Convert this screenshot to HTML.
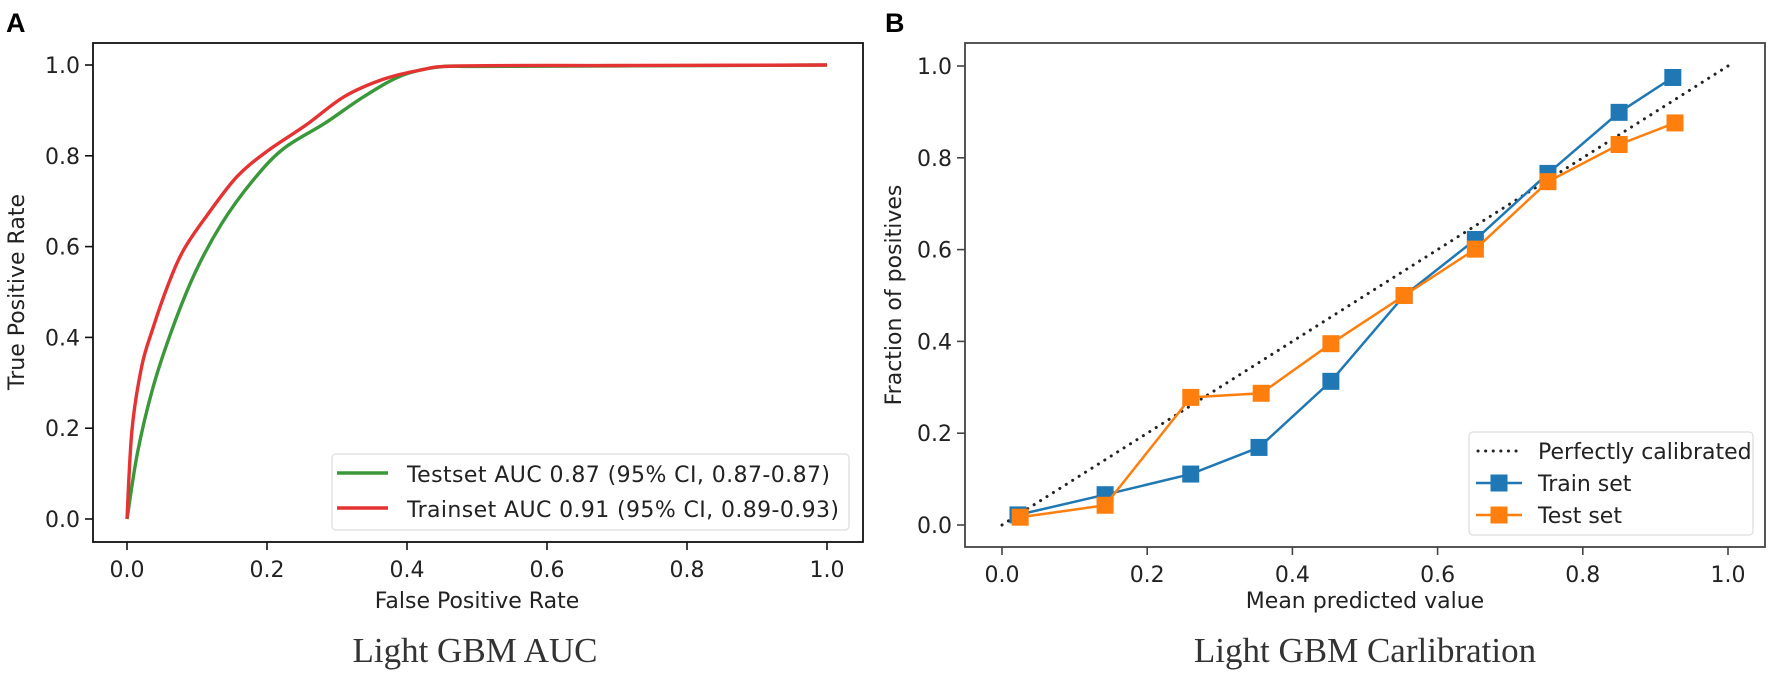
<!DOCTYPE html>
<html><head><meta charset="utf-8"><style>
html,body{margin:0;padding:0;background:#fff;}
svg{display:block;font-family:"DejaVu Sans","Liberation Sans",sans-serif;}
</style></head><body>
<svg id="fig" width="1772" height="676" viewBox="0 0 1772 676" xmlns="http://www.w3.org/2000/svg">
<rect width="1772" height="676" fill="#fff"/>
<text x="6" y="32" font-size="27" font-weight="bold" font-family="Liberation Sans, sans-serif">A</text>
<text x="885" y="32" font-size="27" font-weight="bold" font-family="Liberation Sans, sans-serif">B</text>
<g id="roc"></g>
<g id="cal"></g>
</svg>
<script>
// ROC data
const rocTestFpr = [0,0.015,0.037,0.065,0.098,0.135,0.179,0.223,0.283,0.338,0.393,0.447,0.5,0.7,1.0];
const rocTestTpr = [0,0.146,0.289,0.42,0.545,0.65,0.744,0.815,0.872,0.93,0.977,0.996,0.997,0.998,1.0];
const rocTrainFpr = [0,0.007,0.021,0.037,0.059,0.081,0.114,0.157,0.201,0.256,0.31,0.365,0.42,0.475,0.7,1.0];
const rocTrainTpr = [0,0.194,0.336,0.42,0.517,0.593,0.668,0.754,0.811,0.868,0.93,0.968,0.989,0.998,0.999,1.0];
const rocTicks = [0,0.2,0.4,0.6,0.8,1.0];
const rocTickLabels = ["0.0","0.2","0.4","0.6","0.8","1.0"];
// Calibration data
const calTrainX = [0.022,0.142,0.260,0.354,0.453,0.554,0.652,0.752,0.850,0.924];
const calTrainY = [0.022,0.066,0.111,0.169,0.313,0.500,0.622,0.766,0.899,0.975];
const calTestX = [0.025,0.142,0.260,0.357,0.453,0.554,0.652,0.752,0.850,0.927];
const calTestY = [0.017,0.043,0.278,0.287,0.395,0.500,0.601,0.748,0.829,0.876];
const calTicks = [0,0.2,0.4,0.6,0.8,1.0];
const calTickLabels = ["0.0","0.2","0.4","0.6","0.8","1.0"];

const NS="http://www.w3.org/2000/svg";
function mk(parent,tag,attrs){const e=document.createElementNS(NS,tag);for(const k in attrs)e.setAttribute(k,attrs[k]);parent.appendChild(e);return e;}

function drawAxes(g,L,T,R,B,sx,sy,ticks,labels,frameColor){
  mk(g,'rect',{x:L,y:T,width:R-L,height:B-T,fill:'none',stroke:frameColor,'stroke-width':1.8});
  ticks.forEach((t,i)=>{
    const x=sx(t);
    const tk=mk(g,'line',{x1:x,y1:B,x2:x,y2:B+8,stroke:frameColor,'stroke-width':1.6});
    
    
    const tl=mk(g,'text',{x:x,y:B+35,'font-size':22,'text-anchor':'middle',fill:'#222'});
    tl.textContent=labels[i];
    
    
    const y=sy(t);
    const tk2=mk(g,'line',{x1:L-8,y1:y,x2:L,y2:y,stroke:frameColor,'stroke-width':1.6});
    
    
    const tl2=mk(g,'text',{x:L-13,y:y+8,'font-size':22,'text-anchor':'end',fill:'#222'});
    tl2.textContent=labels[i];
    
    
  });
}
function pathFrom(xs,ys,sx,sy){return xs.map((v,i)=>(i?'L':'M')+sx(v).toFixed(1)+','+sy(ys[i]).toFixed(1)).join(' ');}
function smoothFrom(xs,ys,sx,sy){
  const P=xs.map((v,i)=>[sx(v),sy(ys[i])]);
  let d='M'+P[0][0].toFixed(1)+','+P[0][1].toFixed(1);
  for(let i=0;i<P.length-1;i++){
    const p0=P[i-1]||P[i],p1=P[i],p2=P[i+1],p3=P[i+2]||P[i+1];
    const c1=[p1[0]+(p2[0]-p0[0])/6,p1[1]+(p2[1]-p0[1])/6];
    const c2=[p2[0]-(p3[0]-p1[0])/6,p2[1]-(p3[1]-p1[1])/6];
    d+=' C'+c1.map(n=>n.toFixed(1)).join(',')+' '+c2.map(n=>n.toFixed(1)).join(',')+' '+p2.map(n=>n.toFixed(1)).join(',');
  }
  return d;
}

// ROC panel
(function(){
  const g=document.getElementById('roc');
  const L=93,T=43,R=863,B=542;
  const sx=v=>127+v*700, sy=v=>519-v*454;
  drawAxes(g,L,T,R,B,sx,sy,rocTicks,rocTickLabels,'#111');
  const pg=mk(g,'path',{d:smoothFrom(rocTestFpr,rocTestTpr,sx,sy),fill:'none',stroke:'#3a983a','stroke-width':3.4,'stroke-linejoin':'round'});
  
  
  const pr=mk(g,'path',{d:smoothFrom(rocTrainFpr,rocTrainTpr,sx,sy),fill:'none',stroke:'#e53232','stroke-width':3.4,'stroke-linejoin':'round'});
  
  
  const lg=mk(g,'g',{});
  
  
  mk(lg,'rect',{x:332,y:454,width:517,height:76,rx:4,fill:'#fff','fill-opacity':0.85,stroke:'#ddd','stroke-width':1.2});
  mk(lg,'line',{x1:337,y1:473,x2:388,y2:473,stroke:'#3a983a','stroke-width':3.4});
  mk(lg,'line',{x1:337,y1:508,x2:388,y2:508,stroke:'#e53232','stroke-width':3.4});
  const t1=mk(lg,'text',{x:407,y:482,'font-size':22,fill:'#222',textLength:423});t1.textContent='Testset AUC 0.87 (95% CI, 0.87-0.87)';
  
  
  const t2=mk(lg,'text',{x:407,y:517,'font-size':22,fill:'#222',textLength:432});t2.textContent='Trainset AUC 0.91 (95% CI, 0.89-0.93)';
  
  
  const xt=mk(g,'text',{x:477,y:608,'font-size':22,'text-anchor':'middle',fill:'#222'});xt.textContent='False Positive Rate';
  
  
  const yt=mk(g,'text',{x:0,y:0,'font-size':22,'text-anchor':'middle',fill:'#222',transform:'translate(24,292) rotate(-90)'});yt.textContent='True Positive Rate';
  
  
  const cap=mk(g,'text',{x:475,y:662,'font-size':35,'text-anchor':'middle',fill:'#333','font-family':'Liberation Serif, serif'});cap.textContent='Light GBM AUC';
  
  
})();

// Calibration panel
(function(){
  const g=document.getElementById('cal');
  const L=965,T=43,R=1765,B=547;
  const sx=v=>1002+v*726, sy=v=>525-v*459;
  drawAxes(g,L,T,R,B,sx,sy,calTicks,calTickLabels,'#444');
  const d=mk(g,'line',{x1:sx(0),y1:sy(0),x2:sx(1),y2:sy(1),stroke:'#222','stroke-width':3,'stroke-dasharray':'0.1 7.5','stroke-linecap':'round'});
  
  
  function series(xs,ys,color,name){
    const p=mk(g,'path',{d:pathFrom(xs,ys,sx,sy),fill:'none',stroke:color,'stroke-width':2.5});
    
    
    xs.forEach((v,i)=>{
      const m=mk(g,'rect',{x:sx(v)-8.5,y:sy(ys[i])-8.5,width:17,height:17,fill:color});
      
      
    });
  }
  series(calTrainX,calTrainY,'#1f77b4','train-set');
  series(calTestX,calTestY,'#ff7f0e','test-set');
  const lg=mk(g,'g',{});
  
  
  mk(lg,'rect',{x:1469,y:432,width:284,height:103,rx:4,fill:'#fff','fill-opacity':0.85,stroke:'#ddd','stroke-width':1.2});
  mk(lg,'line',{x1:1478,y1:451,x2:1522,y2:451,stroke:'#222','stroke-width':3,'stroke-dasharray':'0.1 7.5','stroke-linecap':'round'});
  mk(lg,'line',{x1:1476,y1:483,x2:1522,y2:483,stroke:'#1f77b4','stroke-width':2.5});
  mk(lg,'rect',{x:1490.5,y:474.5,width:17,height:17,fill:'#1f77b4'});
  mk(lg,'line',{x1:1476,y1:515,x2:1522,y2:515,stroke:'#ff7f0e','stroke-width':2.5});
  mk(lg,'rect',{x:1490.5,y:506.5,width:17,height:17,fill:'#ff7f0e'});
  const labs=[['Perfectly calibrated',459,'legend-entry-perfect'],['Train set',491,'legend-entry-train'],['Test set',523,'legend-entry-test']];
  labs.forEach(l=>{const t=mk(lg,'text',{x:1538,y:l[1],'font-size':22,fill:'#222'});t.textContent=l[0];
    
    });
  const xt=mk(g,'text',{x:1365,y:608,'font-size':22,'text-anchor':'middle',fill:'#222'});xt.textContent='Mean predicted value';
  
  
  const yt=mk(g,'text',{x:0,y:0,'font-size':22,'text-anchor':'middle',fill:'#222',transform:'translate(901,295) rotate(-90)'});yt.textContent='Fraction of positives';
  
  
  const cap=mk(g,'text',{x:1365,y:662,'font-size':35,'text-anchor':'middle',fill:'#333','font-family':'Liberation Serif, serif'});cap.textContent='Light GBM Carlibration';
  
  
})();
</script>
</body></html>
